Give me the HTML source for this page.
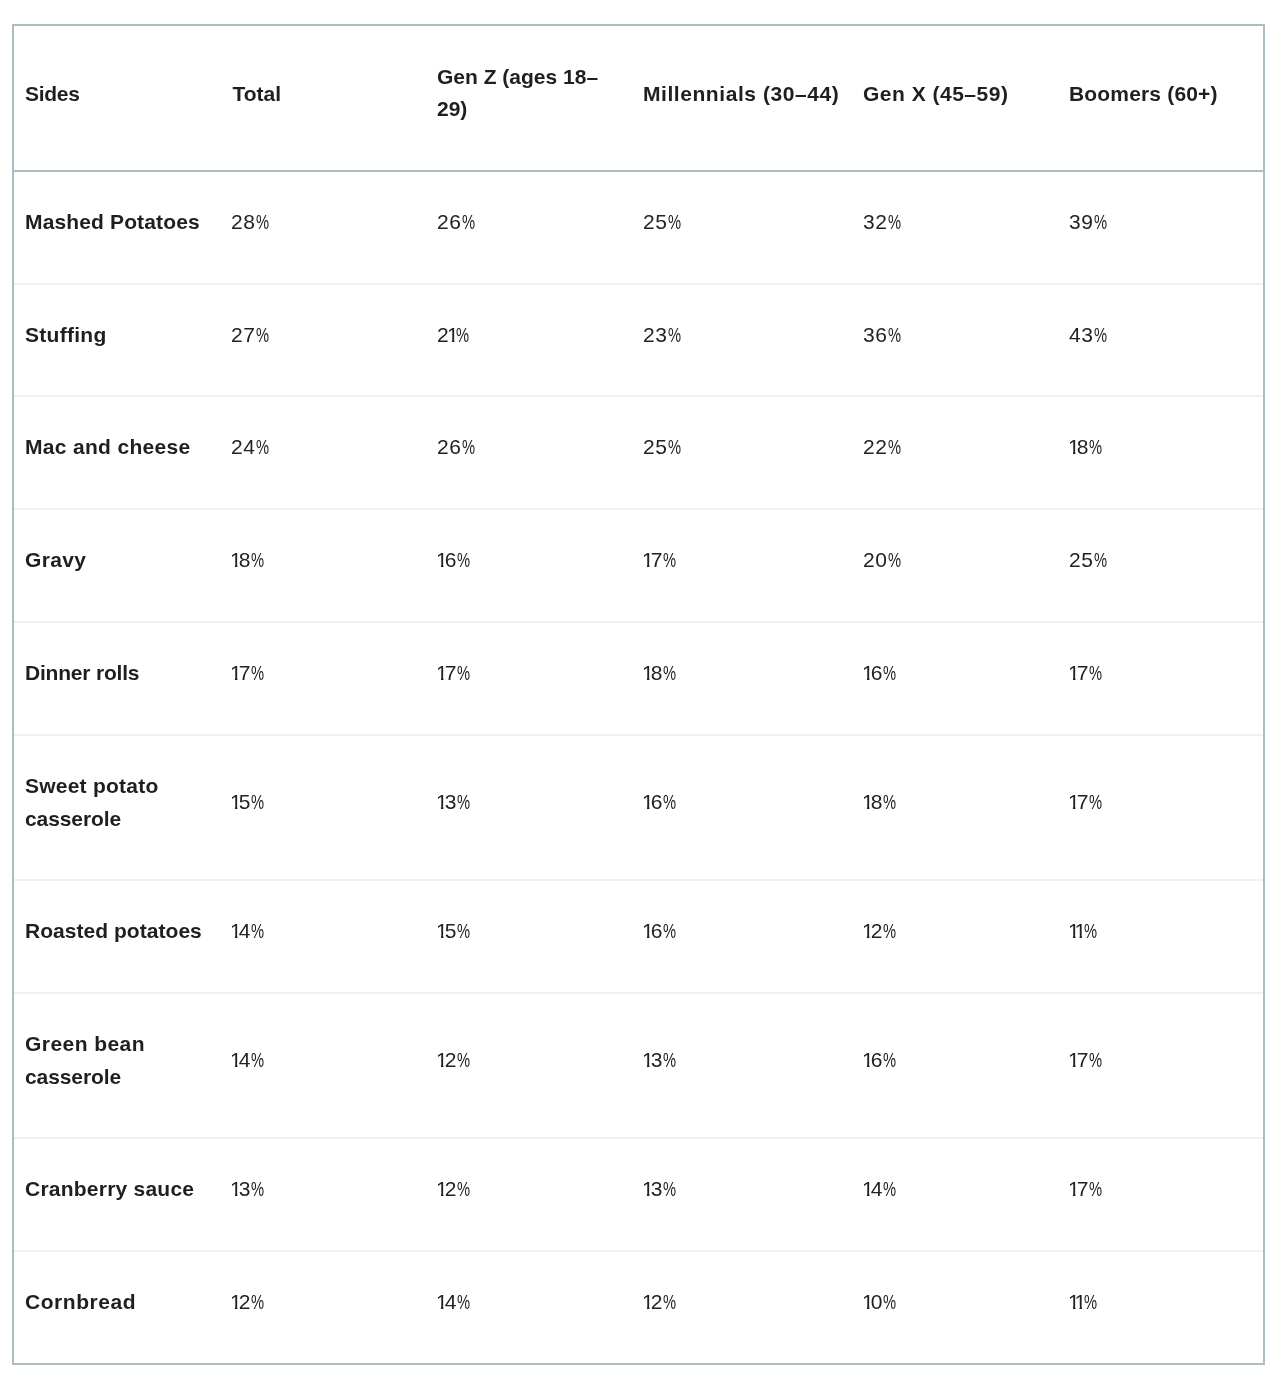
<!DOCTYPE html><html><head><meta charset="utf-8"><title>Sides</title><style>
*{box-sizing:border-box}
html,body{margin:0;padding:0;background:#fff}
body{width:1280px;height:1384px;overflow:hidden;position:relative;font-family:"Liberation Sans",Arial,sans-serif;color:#1f1f1f}
table{position:absolute;left:12px;top:24px;width:1253px;border-collapse:separate;border-spacing:0;border:2px solid #adbcc3;table-layout:fixed}
th,td{padding:0 0 0 11px;text-align:left;vertical-align:middle;font-size:21px}
th{font-weight:bold;height:146px;border-bottom:2px solid #adbcc3;padding-bottom:8px;line-height:31.5px}
th.z{padding-bottom:11px}
td{border-bottom:2px solid #f0f0f0;padding-bottom:12px;font-weight:normal;color:#222;line-height:33px;letter-spacing:0.5px;white-space:nowrap}
td.l{font-weight:bold;color:#1f1f1f;letter-spacing:0;white-space:normal}
tr.last td{border-bottom:0}
.o{display:inline-block;letter-spacing:-2.9px;margin-left:-2.2px;clip-path:polygon(-5px -5px,20px -5px,20px calc(100% - 12px),7.45px calc(100% - 12px),7.45px 200%,4.95px 200%,4.95px calc(100% - 12px),-5px calc(100% - 12px))}
.o.f{margin-left:-1px}
.p{display:inline-block;transform:scaleX(0.7);transform-origin:0 0;margin-left:0.5px}
</style></head><body>
<table><colgroup><col style="width:206px"><col style="width:206px"><col style="width:206px"><col style="width:220px"><col style="width:206px"><col style="width:205px"></colgroup>
<thead><tr><th style="letter-spacing:-0.3px">Sides</th><th style="padding-left:12.5px">Total</th><th class="z">Gen Z (ages 18–<br>29)</th><th style="letter-spacing:0.56px">Millennials (30–44)</th><th style="letter-spacing:0.5px">Gen X (45–59)</th><th style="letter-spacing:0.17px">Boomers (60+)</th></tr></thead><tbody>
<tr style="height:113px"><td class="l"><span style="letter-spacing:0.14px">Mashed Potatoes</span></td><td>28<span class="p">%</span></td><td>26<span class="p">%</span></td><td>25<span class="p">%</span></td><td>32<span class="p">%</span></td><td>39<span class="p">%</span></td></tr>
<tr style="height:112px"><td class="l"><span style="letter-spacing:0.28px">Stuffing</span></td><td>27<span class="p">%</span></td><td>2<span class="o">1</span><span class="p">%</span></td><td>23<span class="p">%</span></td><td>36<span class="p">%</span></td><td>43<span class="p">%</span></td></tr>
<tr style="height:113px"><td class="l"><span style="letter-spacing:0.32px">Mac and cheese</span></td><td>24<span class="p">%</span></td><td>26<span class="p">%</span></td><td>25<span class="p">%</span></td><td>22<span class="p">%</span></td><td><span class="o f">1</span>8<span class="p">%</span></td></tr>
<tr style="height:113px"><td class="l"><span style="letter-spacing:0.35px">Gravy</span></td><td><span class="o f">1</span>8<span class="p">%</span></td><td><span class="o f">1</span>6<span class="p">%</span></td><td><span class="o f">1</span>7<span class="p">%</span></td><td>20<span class="p">%</span></td><td>25<span class="p">%</span></td></tr>
<tr style="height:113px"><td class="l"><span style="letter-spacing:-0.2px">Dinner rolls</span></td><td><span class="o f">1</span>7<span class="p">%</span></td><td><span class="o f">1</span>7<span class="p">%</span></td><td><span class="o f">1</span>8<span class="p">%</span></td><td><span class="o f">1</span>6<span class="p">%</span></td><td><span class="o f">1</span>7<span class="p">%</span></td></tr>
<tr style="height:145px"><td class="l"><span style="letter-spacing:0.23px">Sweet potato</span><br><span style="letter-spacing:-0.1px">casserole</span></td><td><span class="o f">1</span>5<span class="p">%</span></td><td><span class="o f">1</span>3<span class="p">%</span></td><td><span class="o f">1</span>6<span class="p">%</span></td><td><span class="o f">1</span>8<span class="p">%</span></td><td><span class="o f">1</span>7<span class="p">%</span></td></tr>
<tr style="height:113px"><td class="l"><span style="letter-spacing:0.04px">Roasted potatoes</span></td><td><span class="o f">1</span>4<span class="p">%</span></td><td><span class="o f">1</span>5<span class="p">%</span></td><td><span class="o f">1</span>6<span class="p">%</span></td><td><span class="o f">1</span>2<span class="p">%</span></td><td><span class="o f">1</span><span class="o">1</span><span class="p">%</span></td></tr>
<tr style="height:145px"><td class="l"><span style="letter-spacing:0.44px">Green bean</span><br><span style="letter-spacing:-0.1px">casserole</span></td><td><span class="o f">1</span>4<span class="p">%</span></td><td><span class="o f">1</span>2<span class="p">%</span></td><td><span class="o f">1</span>3<span class="p">%</span></td><td><span class="o f">1</span>6<span class="p">%</span></td><td><span class="o f">1</span>7<span class="p">%</span></td></tr>
<tr style="height:113px"><td class="l"><span style="letter-spacing:0.23px">Cranberry sauce</span></td><td><span class="o f">1</span>3<span class="p">%</span></td><td><span class="o f">1</span>2<span class="p">%</span></td><td><span class="o f">1</span>3<span class="p">%</span></td><td><span class="o f">1</span>4<span class="p">%</span></td><td><span class="o f">1</span>7<span class="p">%</span></td></tr>
<tr class="last" style="height:111px"><td class="l"><span style="letter-spacing:0.54px">Cornbread</span></td><td><span class="o f">1</span>2<span class="p">%</span></td><td><span class="o f">1</span>4<span class="p">%</span></td><td><span class="o f">1</span>2<span class="p">%</span></td><td><span class="o f">1</span>0<span class="p">%</span></td><td><span class="o f">1</span><span class="o">1</span><span class="p">%</span></td></tr>
</tbody></table></body></html>
